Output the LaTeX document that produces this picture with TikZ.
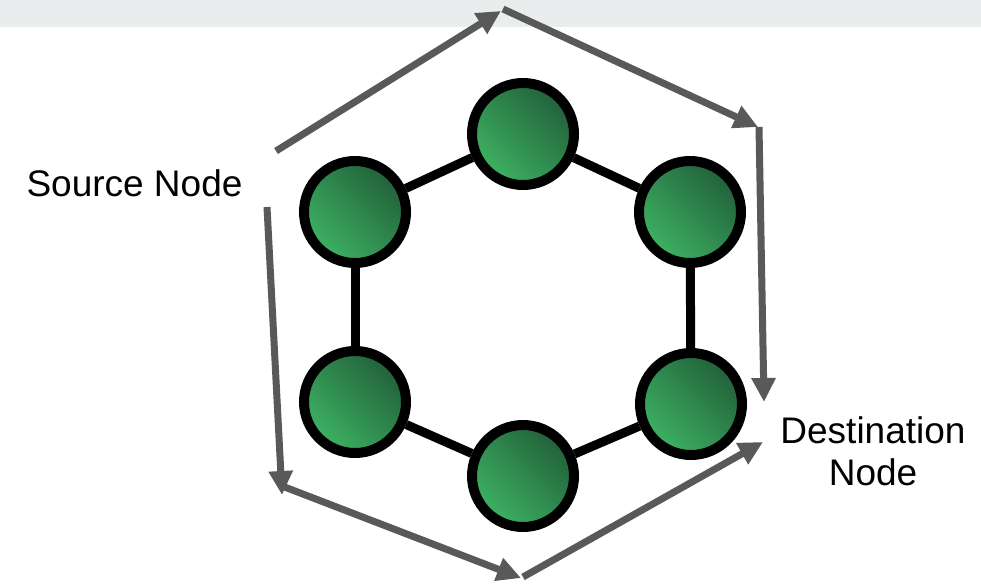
\documentclass[tikz,border=0pt]{standalone}
\usepackage{fontspec}
\setmainfont{Liberation Sans}
\usetikzlibrary{arrows.meta}
\definecolor{bandgray}{HTML}{E9EDED}
\definecolor{arrowgray}{HTML}{595959}
\definecolor{greenlight}{HTML}{3DB262}
\definecolor{greendark}{HTML}{22603A}
\tikzset{
  netnode/.style={circle, draw=black, line width=10pt, minimum size=102pt, inner sep=0pt,
    top color=greendark, bottom color=greenlight, shading angle=-45},
  link/.style={draw=black, line width=9pt},
  flow/.style={draw=arrowgray, line width=7pt, -{Triangle[length=24pt,width=23pt]}},
  label/.style={font=\fontsize{37pt}{42pt}\selectfont, inner sep=0pt, text=black}
}
\begin{document}
\begin{tikzpicture}[x=1pt,y=-1pt]
\useasboundingbox (0,0) rectangle (981,585);
\fill[bandgray] (0,0) rectangle (981,27.5);
% network nodes
\node[netnode] (top) at (523,134) {};
\node[netnode] (ul) at (355,212) {};
\node[netnode] (ur) at (690,212) {};
\node[netnode] (ll) at (355,402) {};
\node[netnode] (lr) at (691,404) {};
\node[netnode] (bot) at (523,476) {};
\path[link] (top) -- (ul);
\path[link] (top) -- (ur);
\path[link] (ul) -- (ll);
\path[link] (ur) -- (lr);
\path[link] (ll) -- (bot);
\path[link] (lr) -- (bot);
% labels
\node[label, anchor=base] (src) at (134.5,197) {Source Node};
\node[label, anchor=center, align=center] (dst) at (873,451) {Destination\\Node};
% flow arrows
\coordinate (a1s) at (276,151);
\coordinate (a1e) at (501,11);
\coordinate (a2s) at (503,9);
\coordinate (a2e) at (758,127);
\coordinate (a3s) at (759,127);
\coordinate (a3e) at (764,402);
\coordinate (b1s) at (267,207);
\coordinate (b1e) at (282,495);
\coordinate (b2s) at (282,486);
\coordinate (b2e) at (521,578);
\coordinate (b3s) at (523,577);
\coordinate (b3e) at (763,442);
\path[flow] (a1s) -- (a1e);
\path[flow] (a2s) -- (a2e);
\path[flow] (a3s) -- (a3e);
\path[flow] (b1s) -- (b1e);
\path[flow] (b2s) -- (b2e);
\path[flow] (b3s) -- (b3e);
\end{tikzpicture}
\end{document}
